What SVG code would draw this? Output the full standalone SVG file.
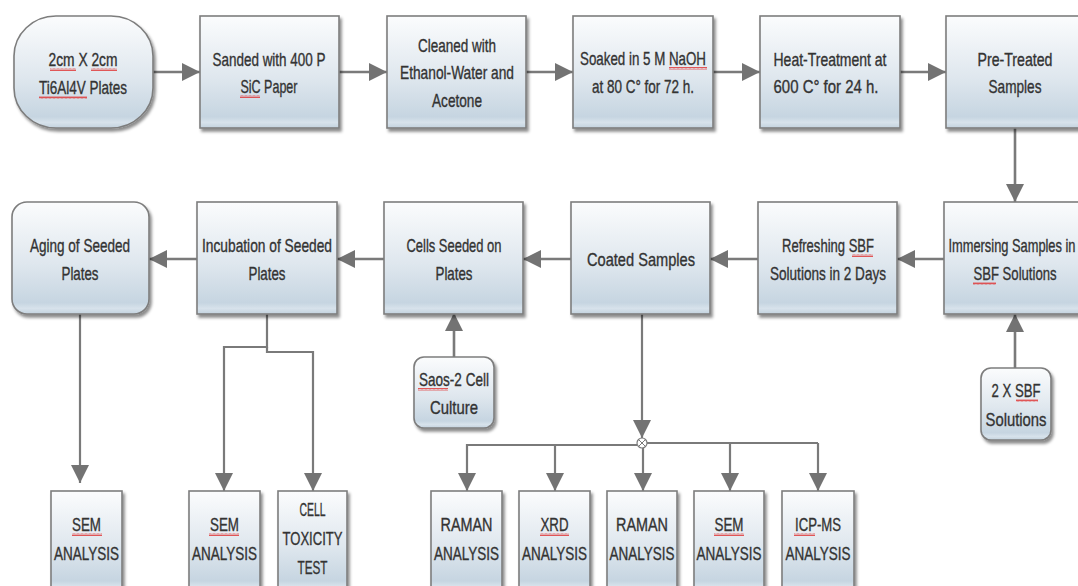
<svg xmlns="http://www.w3.org/2000/svg" width="1078" height="586" viewBox="0 0 1078 586">
<defs>
<linearGradient id="g" x1="0" y1="0" x2="0" y2="1">
<stop offset="0" stop-color="#fbfcfd"/>
<stop offset="0.55" stop-color="#dfe7ee"/>
<stop offset="0.9" stop-color="#c6d5e1"/>
<stop offset="0.95" stop-color="#d7e2eb"/>
<stop offset="1" stop-color="#c3d2de"/>
</linearGradient>
<filter id="sh" x="-10%" y="-10%" width="125%" height="125%">
<feDropShadow dx="2" dy="3" stdDeviation="1.8" flood-color="#000" flood-opacity="0.45"/>
</filter>
<marker id="ah" markerUnits="userSpaceOnUse" markerWidth="18" markerHeight="18" viewBox="0 0 16 16" refX="16" refY="8" orient="auto">
<path d="M0,0 L16,8 L0,16 Z" fill="#737373"/>
</marker>
<pattern id="wv" width="4" height="3" patternUnits="userSpaceOnUse">
<path d="M0,2.5 L1,0.5 L2,2.5 L3,0.5 L4,2.5" fill="none" stroke="#e03030" stroke-width="0.8"/>
</pattern>
</defs>
<style>
.b{fill:url(#g);stroke:#7d7d7d;stroke-width:1.6;filter:url(#sh)}
.t{font-family:"Liberation Sans",Arial,sans-serif;font-size:18.5px;fill:#333;stroke:#333;stroke-width:0.35;text-anchor:middle}
.c{fill:none;stroke:#7a7a7a;stroke-width:2.6;marker-end:url(#ah)}
.d{fill:none;stroke:#7a7a7a;stroke-width:2.2}
.w{fill:url(#wv)}
</style>
<rect width="1078" height="586" fill="#fff"/>

<g id="connectors">
<path class="c" d="M153,72 H200"/>
<path class="c" d="M339,72 H387"/>
<path class="c" d="M526,72 H573"/>
<path class="c" d="M713,72 H760"/>
<path class="c" d="M900,72 H946"/>
<path class="c" d="M1015,128 V202"/>
<path class="c" d="M944,259 H897"/>
<path class="c" d="M758,259 H710"/>
<path class="c" d="M571,259 H523"/>
<path class="c" d="M384,259 H337"/>
<path class="c" d="M197,259 H149"/>
<path class="c" d="M1015,368 V314"/>
<path class="c" d="M454,357 V313"/>
<path class="c" style="stroke-width:2.2" d="M80,313 V483"/>
<path class="c" style="stroke-width:2.2" d="M267,313 V347 H224 V491"/>
<path class="c" style="stroke-width:2.2" d="M267,347 V352 H313 V491"/>
<path class="c" style="stroke-width:2.2" d="M642,313 V438"/>
<path class="c" style="stroke-width:2.2" d="M637,445 H467 V491"/>
<path class="c" style="stroke-width:2.2" d="M555,445 V491"/>
<path class="c" style="stroke-width:2.2" d="M643,448 V491"/>
<path class="d" d="M647,443 H818"/>
<path class="c" style="stroke-width:2.2" d="M730,443 V491"/>
<path class="c" style="stroke-width:2.2" d="M818,443 V491"/>
<g id="junction">
<circle cx="642" cy="443" r="5" fill="#fff" stroke="#7a7a7a" stroke-width="1.2"/>
<path d="M638.5,439.5 L645.5,446.5 M645.5,439.5 L638.5,446.5" stroke="#7a7a7a" stroke-width="1"/>
</g>
</g>

<g id="n1"><rect class="b" x="14" y="16" width="139" height="112" rx="42" ry="40"/>
<text class="t" x="83" y="66" textLength="69" lengthAdjust="spacingAndGlyphs">2cm X 2cm</text><text class="t" x="83" y="94" textLength="88" lengthAdjust="spacingAndGlyphs">Ti6Al4V Plates</text>
<rect class="w" x="50" y="68" width="26" height="3"/><rect class="w" x="91" y="68" width="26" height="3"/><rect class="w" x="39" y="96" width="48" height="3"/></g>
<g id="n2"><rect class="b" x="200" y="16" width="139" height="112"/>
<text class="t" x="269" y="66" textLength="113" lengthAdjust="spacingAndGlyphs">Sanded with 400 P</text><text class="t" x="269" y="93" textLength="57" lengthAdjust="spacingAndGlyphs">SiC Paper</text>
<rect class="w" x="240" y="95" width="20" height="3"/></g>
<g id="n3"><rect class="b" x="387" y="16" width="139" height="112"/>
<text class="t" x="457" y="52" textLength="78" lengthAdjust="spacingAndGlyphs">Cleaned with</text><text class="t" x="457" y="79" textLength="114" lengthAdjust="spacingAndGlyphs">Ethanol-Water and</text><text class="t" x="457" y="107" textLength="50" lengthAdjust="spacingAndGlyphs">Acetone</text></g>
<g id="n4"><rect class="b" x="573" y="16" width="140" height="112"/>
<text class="t" x="643" y="65" textLength="126" lengthAdjust="spacingAndGlyphs">Soaked in 5 M NaOH</text><text class="t" x="643" y="93" textLength="102" lengthAdjust="spacingAndGlyphs">at 80 C° for 72 h.</text>
<rect class="w" x="669" y="67" width="38" height="3"/></g>
<g id="n5"><rect class="b" x="760" y="16" width="140" height="112"/>
<text class="t" x="830" y="66" textLength="113" lengthAdjust="spacingAndGlyphs">Heat-Treatment at</text><text class="t" x="826" y="93" textLength="105" lengthAdjust="spacingAndGlyphs">600 C° for 24 h.</text></g>
<g id="n6"><rect class="b" x="946" y="16" width="140" height="112"/>
<text class="t" x="1015" y="66" textLength="75" lengthAdjust="spacingAndGlyphs">Pre-Treated</text><text class="t" x="1015" y="93" textLength="53" lengthAdjust="spacingAndGlyphs">Samples</text></g>

<g id="n7"><rect class="b" x="944" y="202" width="142" height="112"/>
<text class="t" x="1012" y="252" textLength="127" lengthAdjust="spacingAndGlyphs">Immersing Samples in</text><text class="t" x="1015" y="280" textLength="83" lengthAdjust="spacingAndGlyphs">SBF Solutions</text>
<rect class="w" x="973" y="282" width="23" height="3"/></g>
<g id="n8"><rect class="b" x="758" y="202" width="139" height="112"/>
<text class="t" x="828" y="252" textLength="92" lengthAdjust="spacingAndGlyphs">Refreshing SBF</text><text class="t" x="828" y="280" textLength="116" lengthAdjust="spacingAndGlyphs">Solutions in 2 Days</text>
<rect class="w" x="852" y="254" width="21" height="3"/></g>
<g id="n9"><rect class="b" x="571" y="202" width="139" height="112"/>
<text class="t" x="641" y="266" textLength="108" lengthAdjust="spacingAndGlyphs">Coated  Samples</text></g>
<g id="n10"><rect class="b" x="384" y="202" width="139" height="112"/>
<text class="t" x="454" y="252" textLength="95" lengthAdjust="spacingAndGlyphs">Cells Seeded on</text><text class="t" x="454" y="280" textLength="37" lengthAdjust="spacingAndGlyphs">Plates</text></g>
<g id="n11"><rect class="b" x="197" y="202" width="140" height="112"/>
<text class="t" x="267" y="252" textLength="130" lengthAdjust="spacingAndGlyphs">Incubation of Seeded</text><text class="t" x="267" y="280" textLength="37" lengthAdjust="spacingAndGlyphs">Plates</text></g>
<g id="n12"><rect class="b" x="12" y="202" width="137" height="112" rx="15"/>
<text class="t" x="80" y="252" textLength="100" lengthAdjust="spacingAndGlyphs">Aging of Seeded</text><text class="t" x="80" y="280" textLength="37" lengthAdjust="spacingAndGlyphs">Plates</text></g>

<g id="n13"><rect class="b" x="414" y="357" width="80" height="71" rx="10"/>
<text class="t" x="454" y="386" textLength="70" lengthAdjust="spacingAndGlyphs">Saos-2 Cell</text><text class="t" x="454" y="414" textLength="48" lengthAdjust="spacingAndGlyphs">Culture</text>
<rect class="w" x="418" y="388" width="30" height="3"/></g>
<g id="n14"><rect class="b" x="981" y="368" width="70" height="72" rx="10"/>
<text class="t" x="1016" y="397" textLength="49" lengthAdjust="spacingAndGlyphs">2 X SBF</text><text class="t" x="1016" y="426" textLength="61" lengthAdjust="spacingAndGlyphs">Solutions</text>
<rect class="w" x="1016" y="399" width="22" height="3"/></g>

<g id="n15"><rect class="b" x="51" y="491" width="71" height="100"/>
<text class="t" x="86.5" y="531" textLength="29" lengthAdjust="spacingAndGlyphs">SEM</text><text class="t" x="86.5" y="560" textLength="65" lengthAdjust="spacingAndGlyphs">ANALYSIS</text>
<rect class="w" x="72" y="533" width="30" height="3"/></g>
<g id="n16"><rect class="b" x="189" y="491" width="71" height="100"/>
<text class="t" x="224.5" y="531" textLength="29" lengthAdjust="spacingAndGlyphs">SEM</text><text class="t" x="224.5" y="560" textLength="65" lengthAdjust="spacingAndGlyphs">ANALYSIS</text>
<rect class="w" x="209" y="533" width="30" height="3"/></g>
<g id="n17"><rect class="b" x="278" y="491" width="69" height="100"/>
<text class="t" x="312.5" y="516" textLength="26" lengthAdjust="spacingAndGlyphs">CELL</text><text class="t" x="312.5" y="545" textLength="60" lengthAdjust="spacingAndGlyphs">TOXICITY</text><text class="t" x="312.5" y="574" textLength="30" lengthAdjust="spacingAndGlyphs">TEST</text></g>
<g id="n18"><rect class="b" x="431" y="491" width="71" height="100"/>
<text class="t" x="466.5" y="531" textLength="52" lengthAdjust="spacingAndGlyphs">RAMAN</text><text class="t" x="466.5" y="560" textLength="65" lengthAdjust="spacingAndGlyphs">ANALYSIS</text></g>
<g id="n19"><rect class="b" x="519" y="491" width="71" height="100"/>
<text class="t" x="554.5" y="531" textLength="28" lengthAdjust="spacingAndGlyphs">XRD</text><text class="t" x="554.5" y="560" textLength="65" lengthAdjust="spacingAndGlyphs">ANALYSIS</text>
<rect class="w" x="540" y="533" width="29" height="3"/></g>
<g id="n20"><rect class="b" x="607" y="491" width="70" height="100"/>
<text class="t" x="642" y="531" textLength="52" lengthAdjust="spacingAndGlyphs">RAMAN</text><text class="t" x="642" y="560" textLength="65" lengthAdjust="spacingAndGlyphs">ANALYSIS</text></g>
<g id="n21"><rect class="b" x="694" y="491" width="70" height="100"/>
<text class="t" x="729" y="531" textLength="29" lengthAdjust="spacingAndGlyphs">SEM</text><text class="t" x="729" y="560" textLength="65" lengthAdjust="spacingAndGlyphs">ANALYSIS</text>
<rect class="w" x="714" y="533" width="30" height="3"/></g>
<g id="n22"><rect class="b" x="782" y="491" width="72" height="100"/>
<text class="t" x="818" y="531" textLength="46" lengthAdjust="spacingAndGlyphs">ICP-MS</text><text class="t" x="818" y="560" textLength="65" lengthAdjust="spacingAndGlyphs">ANALYSIS</text>
<rect class="w" x="794" y="533" width="21" height="3"/></g>
</svg>
